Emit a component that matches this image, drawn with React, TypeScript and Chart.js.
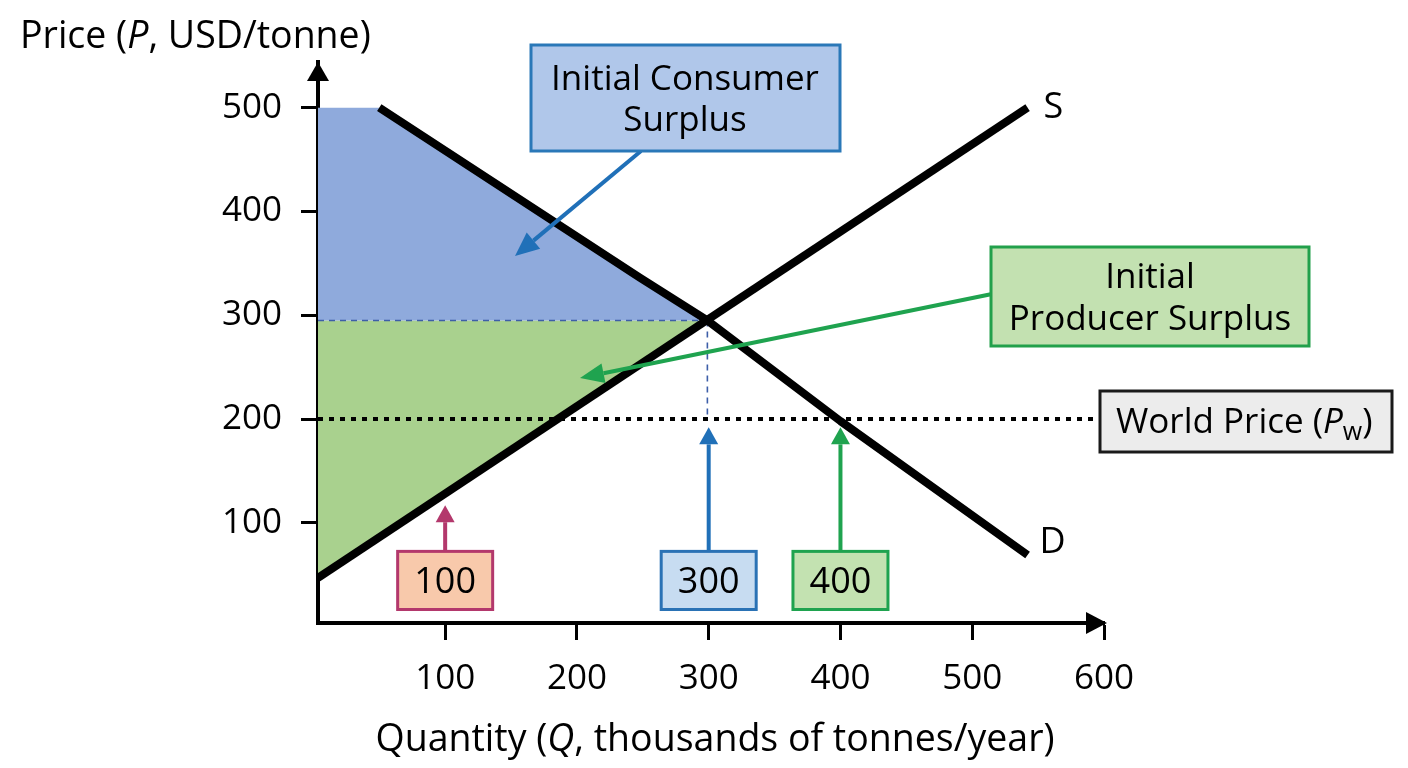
import React, { useEffect, useRef } from 'react';
import { Chart, registerables } from 'chart.js';

Chart.register(...registerables);

// ---------- data ----------
const xTickValues = [100, 200, 300, 400, 500, 600];
const yTickValues = [100, 200, 300, 400, 500];

const supplyQ = [3.5, 542];
const supplyP = [47, 500];

const demandQ = [50, 248, 299, 400, 542];
const demandP = [500, 336, 295, 198, 69];

const maxPrice = 500; // top of consumer surplus area
const equilibriumQ = 299;
const equilibriumP = 295;

const worldPrice = 200;
const worldLineQ = [3.5, 597];

const markerQ = [100, 300, 400];
const markerLabels = ['100', '300', '400'];
const markerTipP = [117, 192, 192];

// ---------- styles ----------
const FONT = '"Open Sans", Lato, "DejaVu Sans", sans-serif';
const CS_FILL = '#8faadc';
const PS_FILL = '#a9d18e';
const BLUE = '#2070b8';
const GREEN = '#1fa34f';
const PINK = '#b3386c';

const TITLE_SIZE = 37.5;
const BOX_SIZE = 35;
const TICK_SIZE = 35;
const NUM_SIZE = 36;

type Part = { t: string; italic?: boolean; size?: number; dy?: number };

function drawRich(ctx: CanvasRenderingContext2D, parts: Part[], x: number, y: number, size: number, align: 'left' | 'center') {
  const fontOf = (p: Part) => `${p.italic ? 'italic ' : ''}${p.size ?? size}px ${FONT}`;
  let total = 0;
  const widths = parts.map((p) => {
    ctx.font = fontOf(p);
    const w = ctx.measureText(p.t).width;
    total += w;
    return w;
  });
  let cx = align === 'center' ? x - total / 2 : x;
  ctx.textAlign = 'left';
  ctx.textBaseline = 'alphabetic';
  parts.forEach((p, i) => {
    ctx.font = fontOf(p);
    ctx.fillText(p.t, cx, y + (p.dy ?? 0));
    cx += widths[i];
  });
}

function drawBox(ctx: CanvasRenderingContext2D, l: number, t: number, r: number, b: number, fill: string, stroke: string, lw: number) {
  ctx.save();
  ctx.fillStyle = fill;
  ctx.strokeStyle = stroke;
  ctx.lineWidth = lw;
  ctx.fillRect(l, t, r - l, b - t);
  ctx.strokeRect(l, t, r - l, b - t);
  ctx.restore();
}

function drawArrow(ctx: CanvasRenderingContext2D, x1: number, y1: number, x2: number, y2: number, color: string, lw: number, headLen: number, headW: number) {
  const ang = Math.atan2(y2 - y1, x2 - x1);
  const bx = x2 - headLen * Math.cos(ang);
  const by = y2 - headLen * Math.sin(ang);
  ctx.save();
  ctx.strokeStyle = color;
  ctx.fillStyle = color;
  ctx.lineWidth = lw;
  ctx.lineCap = 'butt';
  ctx.beginPath();
  ctx.moveTo(x1, y1);
  ctx.lineTo(bx, by);
  ctx.stroke();
  const px = -Math.sin(ang) * headW / 2;
  const py = Math.cos(ang) * headW / 2;
  ctx.beginPath();
  ctx.moveTo(x2, y2);
  ctx.lineTo(bx + px, by + py);
  ctx.lineTo(bx - px, by - py);
  ctx.closePath();
  ctx.fill();
  ctx.restore();
}

const annotationPlugin = {
  id: 'econAnnotations',
  afterDraw(chart: any) {
    const ctx: CanvasRenderingContext2D = chart.ctx;
    const xs = chart.scales.x;
    const ys = chart.scales.y;
    const ca = chart.chartArea;
    ctx.save();

    // axis arrowheads
    ctx.fillStyle = '#000';
    ctx.beginPath();
    ctx.moveTo(ca.left, ca.top);
    ctx.lineTo(ca.left - 11, ca.top + 19);
    ctx.lineTo(ca.left + 11, ca.top + 19);
    ctx.closePath();
    ctx.fill();
    ctx.beginPath();
    ctx.moveTo(ca.right + 3, ca.bottom);
    ctx.lineTo(ca.right - 18, ca.bottom - 11);
    ctx.lineTo(ca.right - 18, ca.bottom + 11);
    ctx.closePath();
    ctx.fill();

    // axis titles
    ctx.fillStyle = '#000';
    drawRich(ctx, [{ t: 'Price (' }, { t: 'P', italic: true }, { t: ', USD/tonne)' }], 20, 48, TITLE_SIZE, 'left');
    drawRich(ctx, [{ t: 'Quantity (' }, { t: 'Q', italic: true }, { t: ', thousands of tonnes/year)' }], 715, 751, TITLE_SIZE, 'center');

    // S and D labels
    const sx = xs.getPixelForValue(supplyQ[supplyQ.length - 1]);
    const sy = ys.getPixelForValue(supplyP[supplyP.length - 1]);
    drawRich(ctx, [{ t: 'S' }], sx + 16, sy + 10, NUM_SIZE, 'left');
    const dx = xs.getPixelForValue(demandQ[demandQ.length - 1]);
    const dy = ys.getPixelForValue(demandP[demandP.length - 1]);
    drawRich(ctx, [{ t: 'D' }], dx + 12, dy - 2, NUM_SIZE, 'left');

    // Consumer surplus callout
    drawArrow(ctx, 641, 151, 515, 256, BLUE, 4, 24, 21);
    drawBox(ctx, 531, 45, 840, 151, '#b0c7ea', '#2a78b8', 3);
    ctx.fillStyle = '#000';
    drawRich(ctx, [{ t: 'Initial Consumer' }], 685, 90, BOX_SIZE, 'center');
    drawRich(ctx, [{ t: 'Surplus' }], 685, 131, BOX_SIZE, 'center');

    // Producer surplus callout
    drawArrow(ctx, 992, 294, 580, 378, GREEN, 4, 24, 20);
    drawBox(ctx, 991, 247, 1309, 346, '#c3e1b1', '#22a04b', 3);
    ctx.fillStyle = '#000';
    drawRich(ctx, [{ t: 'Initial' }], 1150, 288, BOX_SIZE, 'center');
    drawRich(ctx, [{ t: 'Producer Surplus' }], 1150, 330, BOX_SIZE, 'center');

    // World price box
    drawBox(ctx, 1100, 391, 1392, 452, '#ececec', '#1a1a1a', 3);
    ctx.fillStyle = '#000';
    drawRich(ctx, [{ t: 'World Price (' }, { t: 'P', italic: true }, { t: 'w', size: 25, dy: 7 }, { t: ')' }], 1116, 433, BOX_SIZE, 'left');

    // quantity markers
    const markerStyles = [
      { fill: '#f8c9ab', stroke: PINK, arrow: PINK },
      { fill: '#c7dcf1', stroke: '#2a72b5', arrow: BLUE },
      { fill: '#c3e2b1', stroke: GREEN, arrow: GREEN },
    ];
    const boxTop = ys.getPixelForValue(72.5);
    const boxBottom = ys.getPixelForValue(16.5);
    markerQ.forEach((q, i) => {
      const px = xs.getPixelForValue(q);
      const tip = ys.getPixelForValue(markerTipP[i]);
      const st = markerStyles[i];
      drawArrow(ctx, px, boxTop, px, tip, st.arrow, 4, 17, 19);
      drawBox(ctx, px - 47.5, boxTop, px + 47.5, boxBottom, st.fill, st.stroke, 3);
      ctx.fillStyle = '#000';
      drawRich(ctx, [{ t: markerLabels[i] }], px, (boxTop + boxBottom) / 2 + 13, NUM_SIZE, 'center');
    });

    ctx.restore();
  },
};

const pts = (qs: number[], ps: number[]) => qs.map((q, i) => ({ x: q, y: ps[i] }));

export default function App() {
  const canvasRef = useRef<HTMLCanvasElement | null>(null);

  useEffect(() => {
    const canvas = canvasRef.current;
    if (!canvas) return;

    const demandPts = pts(demandQ, demandP);
    const supplyPts = pts(supplyQ, supplyP);
    const csTop = [{ x: supplyQ[0], y: maxPrice }, ...demandPts.filter((p) => p.x <= equilibriumQ)];
    const psBottom = [supplyPts[0], { x: equilibriumQ, y: equilibriumP }];

    const chart = new Chart(canvas, {
      type: 'line',
      data: {
        datasets: [
          {
            label: 'S',
            data: supplyPts,
            borderColor: '#000',
            borderWidth: 8,
            borderCapStyle: 'butt',
            pointRadius: 0,
            tension: 0,
            fill: false,
            order: 0,
          },
          {
            label: 'D',
            data: demandPts,
            borderColor: '#000',
            borderWidth: 8,
            borderCapStyle: 'butt',
            borderJoinStyle: 'round',
            tension: 0,
            pointRadius: 0,
            fill: false,
            order: 0,
          },
          {
            label: 'World price',
            data: pts(worldLineQ, [worldPrice, worldPrice]),
            borderColor: '#000',
            borderWidth: 4,
            borderDash: [5, 6],
            borderCapStyle: 'butt',
            pointRadius: 0,
            fill: false,
            order: 1,
          },
          {
            label: 'Eq price guide',
            data: pts([supplyQ[0], equilibriumQ], [equilibriumP, equilibriumP]),
            borderColor: '#3d5ea8',
            borderWidth: 1.6,
            borderDash: [6, 5],
            pointRadius: 0,
            fill: false,
            order: 2,
          },
          {
            label: 'Eq quantity guide',
            data: pts([equilibriumQ, equilibriumQ], [equilibriumP, worldPrice]),
            borderColor: '#3d5ea8',
            borderWidth: 1.6,
            borderDash: [6, 5],
            pointRadius: 0,
            fill: false,
            order: 2,
          },
          {
            label: 'Consumer surplus',
            data: csTop,
            borderWidth: 0,
            borderColor: 'rgba(0,0,0,0)',
            backgroundColor: CS_FILL,
            tension: 0,
            pointRadius: 0,
            fill: { value: equilibriumP },
            order: 3,
          },
          {
            label: 'Producer surplus',
            data: psBottom,
            borderWidth: 0,
            borderColor: 'rgba(0,0,0,0)',
            backgroundColor: PS_FILL,
            tension: 0,
            pointRadius: 0,
            fill: { value: equilibriumP },
            order: 3,
          },
        ],
      },
      options: {
        animation: false,
        responsive: false,
        devicePixelRatio: 1,
        layout: { padding: { top: 62, right: 304, left: 0, bottom: 0 } },
        plugins: {
          legend: { display: false },
          tooltip: { enabled: false },
          title: { display: false },
        },
        scales: {
          x: {
            type: 'linear',
            min: 3.5,
            max: 600,
            afterBuildTicks: (scale: any) => {
              scale.ticks = xTickValues.map((v) => ({ value: v }));
            },
            afterFit: (scale: any) => {
              scale.height = 145;
            },
            border: { display: true, color: '#000', width: 4 },
            grid: { display: true, drawOnChartArea: false, drawTicks: true, tickLength: 17, tickWidth: 3, tickColor: '#000', color: '#000' },
            ticks: { color: '#000', font: { family: FONT, size: TICK_SIZE }, padding: 18, maxRotation: 0, autoSkip: false },
          },
          y: {
            type: 'linear',
            min: 3.5,
            max: 544,
            afterBuildTicks: (scale: any) => {
              scale.ticks = yTickValues.map((v) => ({ value: v }));
            },
            afterFit: (scale: any) => {
              scale.width = 318;
            },
            border: { display: true, color: '#000', width: 4 },
            grid: { display: true, drawOnChartArea: false, drawTicks: true, tickLength: 17, tickWidth: 3, tickColor: '#000', color: '#000' },
            ticks: { color: '#000', font: { family: FONT, size: TICK_SIZE }, padding: 19, autoSkip: false },
          },
        },
      } as any,
      plugins: [annotationPlugin],
    });

    return () => chart.destroy();
  }, []);

  return (
    <div style={{ position: 'fixed', left: 0, top: 0, width: 1408, height: 768, background: '#fff' }}>
      <canvas ref={canvasRef} width={1408} height={768} style={{ display: 'block', width: 1408, height: 768 }} />
    </div>
  );
}
